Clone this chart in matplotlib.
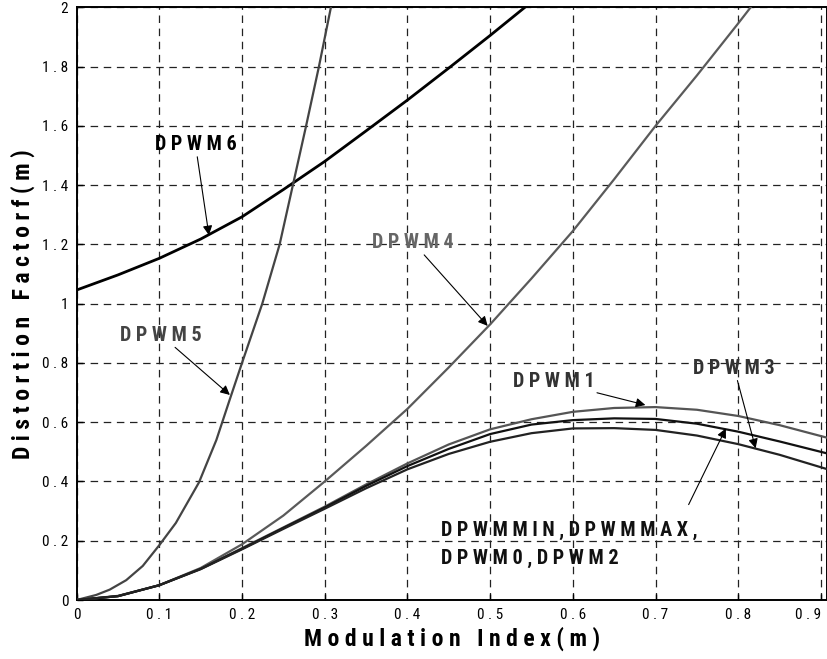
import matplotlib
matplotlib.use("Agg")
import matplotlib.pyplot as plt
from matplotlib import font_manager

# narrow face for all text, first one installed wins
installed = {f.name for f in font_manager.fontManager.ttflist}
NARROW = next((n for n in ["Liberation Sans Narrow", "Arial Narrow", "Roboto Condensed",
                           "PT Sans Narrow", "Barlow Semi Condensed", "Archivo Narrow"]
               if n in installed), "Liberation Sans")
plt.rcParams["font.family"] = [NARROW, "DejaVu Sans"]

# distortion factor curves
m_dpwm6 = [0.0, 0.05, 0.1, 0.15, 0.2, 0.25, 0.3, 0.35, 0.4, 0.45, 0.5, 0.542]
f_dpwm6 = [1.046, 1.097, 1.153, 1.218, 1.293, 1.385, 1.48, 1.583, 1.687, 1.795, 1.905, 2.0]

m_dpwm5 = [0.0, 0.0236, 0.04, 0.06, 0.08, 0.1, 0.12, 0.148, 0.169, 0.185, 0.2,
           0.2245, 0.2455, 0.2615, 0.2775, 0.293, 0.3075]
f_dpwm5 = [0.0, 0.017, 0.035, 0.067, 0.115, 0.185, 0.26, 0.397, 0.54, 0.675, 0.8,
           1.0, 1.2, 1.4, 1.6, 1.8, 2.0]

m_dpwm4 = [0.0, 0.05, 0.1, 0.15, 0.2, 0.25, 0.3, 0.35, 0.4, 0.45, 0.5, 0.55,
           0.6, 0.65, 0.7, 0.75, 0.8, 0.815]
f_dpwm4 = [0.0, 0.014, 0.05, 0.108, 0.188, 0.285, 0.40, 0.52, 0.645, 0.785, 0.93, 1.085,
           1.245, 1.42, 1.6, 1.77, 1.946, 2.0]

m_low = [0.0, 0.05, 0.1, 0.15, 0.2, 0.25, 0.3, 0.35, 0.4, 0.45, 0.5, 0.55, 0.6,
         0.65, 0.7, 0.75, 0.8, 0.85, 0.907]
f_dpwm1 = [0.0, 0.013, 0.05, 0.106, 0.175, 0.245, 0.315, 0.39, 0.461, 0.525, 0.576, 0.61, 0.635,
           0.648, 0.651, 0.642, 0.621, 0.59, 0.548]
f_dpwmmin = [0.0, 0.013, 0.05, 0.105, 0.173, 0.243, 0.312, 0.385, 0.452, 0.51, 0.56, 0.592, 0.607,
             0.613, 0.611, 0.595, 0.568, 0.535, 0.495]
f_dpwm3 = [0.0, 0.013, 0.05, 0.104, 0.171, 0.24, 0.308, 0.377, 0.441, 0.493, 0.534, 0.563, 0.579,
           0.58, 0.574, 0.555, 0.526, 0.49, 0.442]

xticks = [0, 0.1, 0.2, 0.3, 0.4, 0.5, 0.6, 0.7, 0.8, 0.9]
xtick_labels = ["0", "0 . 1", "0 . 2", "0 . 3", "0 . 4", "0 . 5", "0 . 6", "0 . 7", "0 . 8", "0 . 9"]
yticks = [0, 0.2, 0.4, 0.6, 0.8, 1.0, 1.2, 1.4, 1.6, 1.8, 2.0]
ytick_labels = ["0", "0 . 2", "0 . 4", "0 . 6", "0 . 8", "1", "1 . 2", "1 . 4", "1 . 6", "1 . 8", "2"]

fig = plt.figure(figsize=(8.28, 6.59), dpi=100)
ax = fig.add_axes([0.0925, 0.0895, 0.906, 0.8994])

ax.plot(m_dpwm6, f_dpwm6, color="black", lw=2.0, zorder=3)
ax.plot(m_dpwm5, f_dpwm5, color="#444444", lw=1.6, zorder=3)
ax.plot(m_dpwm4, f_dpwm4, color="#5a5a5a", lw=1.6, zorder=3)
ax.plot(m_low, f_dpwm1, color="#555555", lw=1.6, zorder=3)
ax.plot(m_low, f_dpwmmin, color="#111111", lw=1.6, zorder=3)
ax.plot(m_low, f_dpwm3, color="#222222", lw=1.6, zorder=3)

ax.set_xlim(0, 0.907)
ax.set_ylim(0, 2)
ax.set_xticks(xticks)
ax.set_xticklabels(xtick_labels)
ax.set_yticks(yticks)
ax.set_yticklabels(ytick_labels)
ax.tick_params(direction="in", length=4, width=1, labelsize=11, pad=6)
# last x label sits at the figure edge
ax.get_xticklabels()[-1].set_horizontalalignment("right")
ax.get_xticklabels()[-1].set_x(0.907)
ax.grid(True, color="#222222", lw=0.9, linestyle=(0, (6, 4.5)))
for s in ax.spines.values():
    s.set_linewidth(1.4)

ax.set_xlabel("M o d u l a t i o n   I n d e x ( m )", fontsize=17, fontweight="bold", labelpad=3)
ax.set_ylabel("D i s t o r t i o n   F a c t o r f ( m )", fontsize=17, fontweight="bold", labelpad=5)

lab = dict(fontsize=14.5, fontweight="bold", ha="center", va="center")
arr = dict(arrowstyle="-|>", color="black", lw=0.8, mutation_scale=14, shrinkA=0, shrinkB=0)

ax.annotate("D P W M 6", xy=(0.16, 1.231), xytext=(0.1437, 1.537), color="black",
            arrowprops=arr, **lab)
ax.annotate("D P W M 5", xy=(0.1853, 0.692), xytext=(0.102, 0.894), color="#444444",
            arrowprops=arr, **lab)
ax.annotate("D P W M 4", xy=(0.497, 0.925), xytext=(0.407, 1.206), color="#666666",
            arrowprops=arr, **lab)
ax.annotate("D P W M 1", xy=(0.6877, 0.658), xytext=(0.5765, 0.7366), color="#333333",
            arrowprops=arr, **lab)
ax.annotate("D P W M 3", xy=(0.821, 0.512), xytext=(0.795, 0.782), color="#333333",
            arrowprops=arr, **lab)
ax.annotate("", xy=(0.785, 0.579), xytext=(0.740, 0.322), arrowprops=arr)
ax.text(0.441, 0.2333, "D P W M M I N , D P W M M A X ,", fontsize=14.5, fontweight="bold",
        ha="left", va="center", color="#111111")
ax.text(0.441, 0.1415, "D P W M 0 , D P W M 2", fontsize=14.5, fontweight="bold",
        ha="left", va="center", color="#111111")

fig.savefig("out.png", dpi=100)
